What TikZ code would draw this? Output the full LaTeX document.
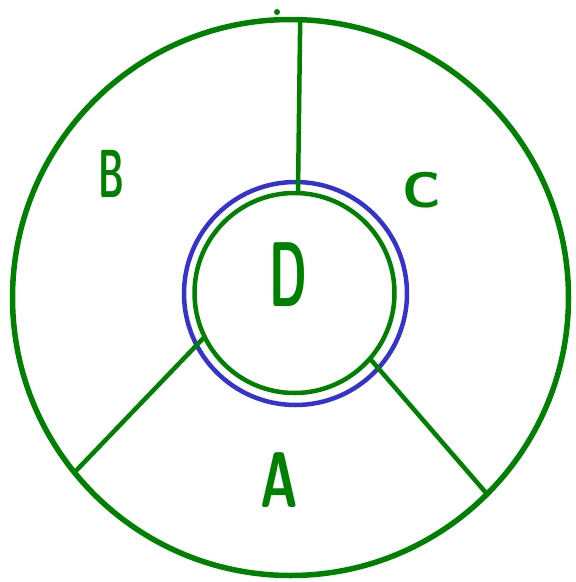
\documentclass[tikz,border=0pt]{standalone}
\usepackage{fontspec}
\usepackage{xcolor}
\usepackage{tikz}
\usetikzlibrary{positioning}
\definecolor{penGreen}{HTML}{008000}
\definecolor{penBlue}{HTML}{3434CC}

\begin{document}
\begin{tikzpicture}[x=1pt,y=-1pt,
		c/.style={circle,draw=penGreen,inner sep=0pt,outer sep=0pt},
		w/.style={draw=penGreen,line width=4.5pt,line cap=round},
		l/.style={text=penGreen,inner sep=0pt}
		]
		\useasboundingbox (0,0) rectangle (576,582);
		\node[c,minimum size=556pt,line width=5.5pt] (outer) at (290.5,297.5) {};
		\node[c,draw=penBlue,minimum size=223pt,line width=4.5pt] (ring) at (295.5,293.5) {};
		\node[c,minimum size=200pt,line width=4.5pt] (inner) at (294.5,293) {};
		\draw[w] (inner.88.6) -- (outer.88.2);
		\draw[w] (inner.206.8) -- (outer.219.3);
		\draw[w] (inner.319.3) -- (outer.315.7);
		\node[circle,fill=penGreen,minimum size=6pt,inner sep=0pt] (dot) at (277,12) {};
		\node[l,font=\sffamily\bfseries\fontsize{79}{79}\selectfont] (A) at (279,480) {\scalebox{0.65}[1]{A}};
		\node[l,font=\sffamily\bfseries\fontsize{68}{68}\selectfont] (B) at (111,173.5) {\scalebox{0.52}[1]{B}};
		\node[l,font=\sffamily\bfseries\fontsize{50}{50}\selectfont] (C) at (422,190) {\scalebox{1.1}[1]{C}};
		\node[l,font=\sffamily\bfseries\fontsize{92}{92}\selectfont] (D) at (288,275) {\scalebox{0.52}[1]{D}};
	\end{tikzpicture}
\end{document}
